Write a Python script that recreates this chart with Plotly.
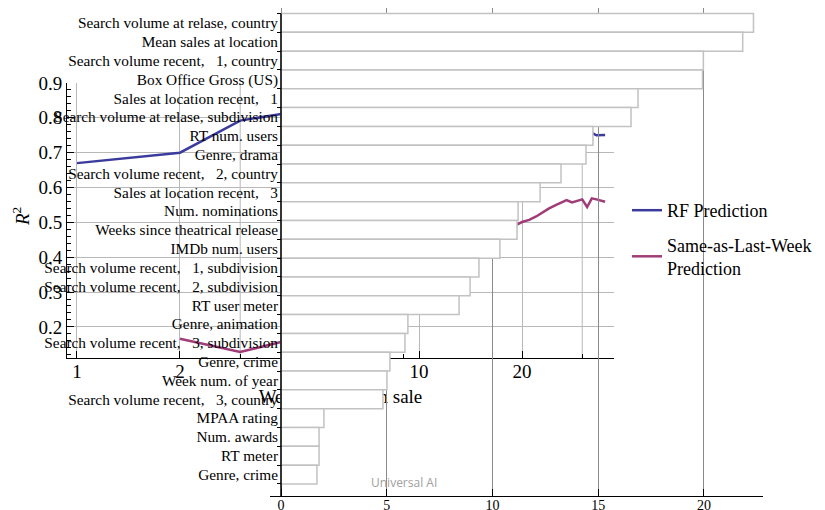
import plotly.graph_objects as go

# ---------------- data ----------------
weeks = list(range(1, 36))
rf_r2 = [0.670, 0.700, 0.792, 0.812, 0.820, 0.823, 0.822, 0.820, 0.817, 0.814,
         0.811, 0.808, 0.805, 0.802, 0.799, 0.796, 0.793, 0.790, 0.787, 0.784,
         0.781, 0.778, 0.775, 0.772, 0.770, 0.768, 0.766, 0.764, 0.762, 0.760,
         0.759, 0.757, 0.750, 0.750, 0.751]
salw_r2 = [None, 0.166, 0.128, 0.158, 0.200, 0.245, 0.285, 0.318, 0.345, 0.368,
           0.388, 0.405, 0.420, 0.435, 0.455, 0.465, 0.474, 0.482, 0.490, 0.501,
           0.507, 0.517, 0.530, 0.540, 0.549, 0.557, 0.564, 0.557, 0.562, 0.566,
           0.544, 0.569, 0.566, 0.563, 0.559]

sp = "\u00a0\u00a0\u00a0"
features = [
    "Search volume at relase, country",
    "Mean sales at location",
    "Search volume recent," + sp + "1, country",
    "Box Office Gross (US)",
    "Sales at location recent," + sp + "1",
    "Search volume at relase, subdivision",
    "RT num. users",
    "Genre, drama",
    "Search volume recent," + sp + "2, country",
    "Sales at location recent," + sp + "3",
    "Num. nominations",
    "Weeks since theatrical release",
    "IMDb num. users",
    "Search volume recent," + sp + "1, subdivision",
    "Search volume recent," + sp + "2, subdivision",
    "RT user meter",
    "Genre, animation",
    "Search volume recent," + sp + "3, subdivision",
    "Genre, crime",
    "Week num. of year",
    "Search volume recent," + sp + "3, country",
    "MPAA rating",
    "Num. awards",
    "RT meter",
    "Genre, crime",
]
importance = [22.34, 21.83, 19.97, 19.93, 16.88, 16.55, 14.75, 14.42, 13.24, 12.25,
              11.21, 11.16, 10.35, 9.36, 8.94, 8.42, 6.00, 5.86, 5.15, 5.01,
              4.82, 2.03, 1.80, 1.80, 1.70]

line_x_ticks = [1, 2, 5, 10, 20]
line_x_minor = [3, 4, 6, 7, 8, 9, 30]
line_x_extra_grid = [3, 30]
line_y_ticks = [0.2, 0.3, 0.4, 0.5, 0.6, 0.7, 0.8, 0.9]
bar_x_ticks = [0, 5, 10, 15, 20]

W, H = 825, 510
OFF = 8  # page offset of the plot div
SERIF = "Liberation Serif"
GRID1 = "#b8b8b8"
pos = list(range(len(features)))


def px(x):
    return (x - OFF) / W


def py(y):
    return 1 - (y - OFF) / H


fig = go.Figure()

# ---- line chart (bottom layer: x / y) ----
fig.add_trace(go.Scatter(x=weeks, y=rf_r2, mode="lines", name="RF Prediction",
                         line=dict(color="#3b3b9e", width=2.5),
                         xaxis="x", yaxis="y", legendgroup="a"))
fig.add_trace(go.Scatter(x=weeks, y=salw_r2, mode="lines",
                         name="Same-as-Last-Week<br>Prediction",
                         line=dict(color="#a03c78", width=2.5),
                         xaxis="x", yaxis="y", legendgroup="b"))

# ---- x-axis title of the line chart (middle layer: x2 / y2, pixel space) ----
fig.add_trace(go.Scatter(x=[340.5 - OFF], y=[398 - OFF], mode="text",
                         text=["Week number on sale"],
                         textfont=dict(family=SERIF, size=19, color="black"),
                         xaxis="x2", yaxis="y2", showlegend=False, hoverinfo="skip"))

# ---- bar chart (top layer: x3 / y3) ----
fig.add_trace(go.Bar(x=importance, y=pos, orientation="h", width=1.0,
                     marker=dict(color="white", line=dict(color="#c2c2c2", width=1.5)),
                     xaxis="x3", yaxis="y3", showlegend=False))

hidden = dict(visible=False, showgrid=False, zeroline=False, fixedrange=True)

shapes = [dict(type="line", xref="x", yref="y domain", x0=v, x1=v, y0=0, y1=1,
               line=dict(color=GRID1, width=1), layer="below")
          for v in line_x_extra_grid]
shapes.append(dict(type="line", xref="x3", yref="y3", x0=0, x1=0, y0=-0.5, y1=25.14,
                   line=dict(color="black", width=1.5), layer="above"))

fig.update_layout(
    width=W, height=H,
    margin=dict(l=0, r=0, t=0, b=0, autoexpand=False),
    paper_bgcolor="white", plot_bgcolor="rgba(0,0,0,0)",
    font=dict(family=SERIF, color="black"),
    xaxis=dict(type="log", domain=[px(67), px(614)], range=[-0.0292, 1.570],
               anchor="y", tickmode="array", tickvals=line_x_ticks,
               ticks="inside", ticklen=7, ticklabelstandoff=-4,
               tickcolor="black", showline=True, linecolor="black", linewidth=1,
               showgrid=True, gridcolor=GRID1, gridwidth=1, zeroline=False,
               tickfont=dict(family=SERIF, size=19),
               minor=dict(tickmode="array", tickvals=line_x_minor, ticks="inside",
                          ticklen=4, tickcolor="black", showgrid=False)),
    yaxis=dict(domain=[py(358), py(83)], range=[0.1107, 0.9], anchor="x",
               tickmode="array", tickvals=line_y_ticks, ticks="inside", ticklen=7,
               tickcolor="black", showline=True, linecolor="black", linewidth=1,
               showgrid=True, gridcolor=GRID1, gridwidth=1, zeroline=False,
               tickfont=dict(family=SERIF, size=19),
               minor=dict(dtick=0.02, tick0=0, ticks="inside", ticklen=4,
                          tickcolor="black", showgrid=False)),
    xaxis2=dict(domain=[0, 1], range=[0, W], anchor="y2", **hidden),
    yaxis2=dict(domain=[0, 1], range=[H, 0], anchor="x2", **hidden),
    xaxis3=dict(domain=[px(270), px(763)], range=[-0.520, 22.79], anchor="y3",
                tickmode="array", tickvals=bar_x_ticks, ticks="inside", ticklen=7,
                ticklabelstandoff=-4,
                tickcolor="black", showline=True, linecolor="black", linewidth=1,
                showgrid=True, gridcolor="#8a8a8a", gridwidth=1, zeroline=False,
                tickfont=dict(family=SERIF, size=14)),
    yaxis3=dict(domain=[py(496), 1], range=[25.14, -0.792],
                anchor="free", position=px(281), tickmode="array", tickvals=pos,
                ticktext=features, ticks="", showline=False, showgrid=False,
                zeroline=False, tickfont=dict(family=SERIF, size=15.3),
                ticklabelstandoff=3,
                minor=dict(tickmode="array", tickvals=[p - 0.5 for p in pos] + [len(pos) - 0.5],
                           ticks="outside", ticklen=4, tickcolor="black", showgrid=False)),
    showlegend=True,
    legend=dict(x=px(627), xanchor="left", y=py(192), yanchor="top",
                bgcolor="rgba(0,0,0,0)", font=dict(family=SERIF, size=18),
                tracegroupgap=8),
    shapes=shapes,
    annotations=[
        dict(text="<i>R</i><sup>2</sup>", xref="paper", yref="paper",
             x=px(21), y=py(217), xanchor="center", yanchor="middle",
             textangle=-90, showarrow=False,
             font=dict(family=SERIF, size=19)),
        dict(text="Universal AI", xref="paper", yref="paper",
             x=px(404), y=py(482), xanchor="center", yanchor="middle",
             showarrow=False,
             font=dict(family="Open Sans", size=12, color="#a0a0a0")),
    ],
)

fig.write_html("out.html")
